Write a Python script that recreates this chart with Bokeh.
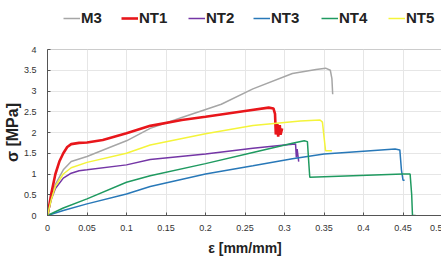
from bokeh.plotting import figure
from bokeh.models import Legend, LegendItem, FixedTicker, Range1d
from bokeh.layouts import column
from bokeh.embed import file_html
from bokeh.resources import INLINE

series_names = ["M3", "NT1", "NT2", "NT3", "NT4", "NT5"]

m3_eps = [0, 0.005, 0.01, 0.02, 0.03, 0.05, 0.08, 0.1, 0.13, 0.17, 0.22, 0.26, 0.31, 0.34, 0.352, 0.358, 0.36, 0.361]
m3_sig = [0, 0.45, 0.75, 1.1, 1.3, 1.42, 1.65, 1.8, 2.1, 2.36, 2.68, 3.05, 3.42, 3.52, 3.55, 3.5, 3.3, 2.92]

nt1_eps = [0, 0.005, 0.01, 0.015, 0.02, 0.025, 0.03, 0.04, 0.05, 0.07, 0.1, 0.13, 0.17, 0.2, 0.25, 0.28, 0.286, 0.288, 0.289, 0.291, 0.292, 0.294, 0.295, 0.297]
nt1_sig = [0, 0.55, 1.0, 1.3, 1.5, 1.65, 1.72, 1.75, 1.76, 1.82, 1.98, 2.16, 2.3, 2.38, 2.52, 2.6, 2.58, 2.45, 1.95, 2.2, 1.9, 2.18, 1.95, 2.1]

nt2_eps = [0, 0.005, 0.01, 0.02, 0.03, 0.04, 0.05, 0.1, 0.13, 0.2, 0.26, 0.3, 0.314, 0.315, 0.316, 0.317, 0.318]
nt2_sig = [0, 0.4, 0.65, 0.9, 1.02, 1.08, 1.1, 1.22, 1.35, 1.48, 1.62, 1.7, 1.72, 1.4, 1.6, 1.45, 1.3]

nt3_eps = [0, 0.02, 0.05, 0.1, 0.13, 0.2, 0.26, 0.31, 0.35, 0.4, 0.44, 0.446, 0.448, 0.45, 0.452]
nt3_sig = [0, 0.12, 0.28, 0.52, 0.7, 1.0, 1.2, 1.37, 1.48, 1.55, 1.6, 1.58, 1.1, 0.85, 0.85]

nt4_eps = [0, 0.02, 0.05, 0.1, 0.13, 0.2, 0.26, 0.31, 0.325, 0.329, 0.331, 0.332, 0.45, 0.459, 0.461, 0.462, 0.466]
nt4_sig = [0, 0.18, 0.4, 0.8, 0.96, 1.25, 1.52, 1.74, 1.8, 1.78, 1.2, 0.92, 1.0, 1.0, 0.5, 0.0, 0.0]

nt5_eps = [0, 0.005, 0.01, 0.02, 0.03, 0.05, 0.1, 0.13, 0.2, 0.26, 0.32, 0.345, 0.348, 0.35, 0.352, 0.36]
nt5_sig = [0, 0.4, 0.7, 1.0, 1.15, 1.28, 1.5, 1.7, 1.97, 2.17, 2.28, 2.3, 2.25, 1.9, 1.56, 1.56]

x_ticks = [0, 0.05, 0.1, 0.15, 0.2, 0.25, 0.3, 0.35, 0.4, 0.45, 0.5]
y_ticks = [0, 0.5, 1, 1.5, 2, 2.5, 3, 3.5, 4]

colors = ["#a6a6a6", "#e8161b", "#7436a6", "#2878b8", "#1f9a60", "#f4f43a"]
widths = [1.5, 2.6, 1.5, 1.5, 1.5, 1.5]
legend_x = [16, 74, 141, 206, 274, 341]   # legend item positions (screen px)

series = [(m3_eps, m3_sig), (nt1_eps, nt1_sig), (nt2_eps, nt2_sig),
          (nt3_eps, nt3_sig), (nt4_eps, nt4_sig), (nt5_eps, nt5_sig)]

W = 442

# ---- legend strip (separate figure above the chart) ----
leg_h = 44
lf = figure(width=W, height=leg_h, output_backend="svg", toolbar_location=None,
            x_range=Range1d(0, 1), y_range=Range1d(0, 1),
            x_axis_location=None, y_axis_location=None,
            min_border=0, outline_line_color=None)
lf.grid.visible = False
for name, c, w, lx in zip(series_names, colors, widths, legend_x):
    r = lf.line([-10, -9], [-10, -9], line_color=c, line_width=w)
    leg = Legend(items=[LegendItem(label=name, renderers=[r])], location=(lx, 18),
                 label_text_font="Liberation Sans", label_text_font_style="bold",
                 label_text_font_size="15px", label_text_color="#222222",
                 glyph_width=17, glyph_height=16, label_height=16, label_standoff=1,
                 padding=0, margin=0,
                 border_line_color=None, background_fill_alpha=0)
    lf.add_layout(leg, "center")

# ---- main chart ----
p = figure(width=W, height=258 - leg_h, output_backend="svg", toolbar_location=None,
           x_range=Range1d(0, 0.5), y_range=Range1d(0, 4),
           min_border_left=41, min_border_right=0, min_border_top=5, min_border_bottom=43)

for name, (xs, ys), c, w in zip(series_names, series, colors, widths):
    p.line(xs, ys, line_color=c, line_width=w)

p.xaxis.ticker = FixedTicker(ticks=x_ticks)
p.yaxis.ticker = FixedTicker(ticks=y_ticks)
p.xaxis.major_label_overrides = {0: "0", 0.05: "0.05", 0.1: "0.1", 0.15: "0.15", 0.2: "0.2", 0.25: "0.25",
                                 0.3: "0.3", 0.35: "0.35", 0.4: "0.4", 0.45: "0.45", 0.5: "0.5"}
p.yaxis.major_label_overrides = {0: "0", 0.5: "0.5", 1: "1", 1.5: "1.5", 2: "2", 2.5: "2.5",
                                 3: "3", 3.5: "3.5", 4: "4"}
for ax in (p.xaxis, p.yaxis):
    ax.major_tick_in = 3
    ax.major_tick_out = 0
    ax.minor_tick_in = 0
    ax.minor_tick_out = 0
    ax.axis_line_color = "#555555"
    ax.major_tick_line_color = "#555555"
    ax.major_label_text_font = "Liberation Sans"
    ax.major_label_text_font_size = "9px"
    ax.major_label_text_color = "#333333"
    ax.axis_label_text_font = "Liberation Sans"
    ax.axis_label_text_font_style = "bold"
    ax.axis_label_text_color = "#222222"

p.xaxis.axis_label = "ε [mm/mm]"
p.yaxis.axis_label = "σ [MPa]"
p.xaxis.axis_label_text_font_size = "14px"
p.yaxis.axis_label_text_font_size = "16px"
p.xaxis.major_label_standoff = 9
p.yaxis.major_label_standoff = 11
p.xaxis.axis_label_standoff = 6
p.yaxis.axis_label_standoff = 0

p.xgrid.grid_line_color = "#e6e6e6"
p.ygrid.grid_line_color = "#e6e6e6"
p.outline_line_color = "#cccccc"
p.background_fill_color = "white"
p.border_fill_color = "white"

layout = column(lf, p, spacing=0)
open("out.html", "w").write(file_html(layout, INLINE))
